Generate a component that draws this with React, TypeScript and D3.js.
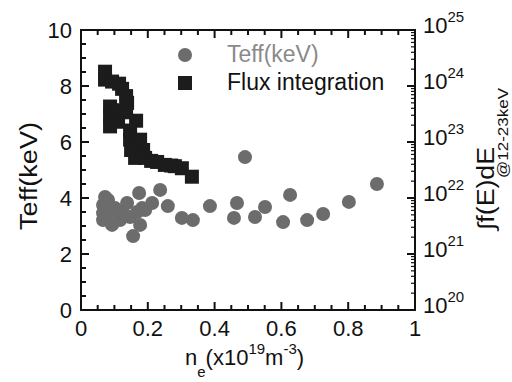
import { useEffect, useRef } from "react";
import * as d3 from "d3";

// Teff (keV) vs line-averaged density (x10^19 m^-3)
const teffDensity = [
  0.072, 0.066, 0.081, 0.066, 0.066, 0.093, 0.087, 0.102, 0.117, 0.138,
  0.126, 0.147, 0.168, 0.174, 0.183, 0.192, 0.177, 0.156, 0.213, 0.237,
  0.26, 0.302, 0.335, 0.386, 0.467, 0.458, 0.491, 0.521, 0.551, 0.605,
  0.626, 0.677, 0.725, 0.802, 0.886,
];
const teffValues = [
  4.04, 3.75, 3.93, 3.46, 3.21, 3.04, 3.5, 3.64, 3.21, 3.82,
  3.46, 3.32, 3.5, 4.18, 3.64, 3.57, 3.04, 2.64, 3.82, 4.29,
  3.71, 3.29, 3.21, 3.71, 3.82, 3.29, 5.46, 3.32, 3.68, 3.14,
  4.11, 3.21, 3.43, 3.86, 4.5,
];

// Flux integration (12-23 keV) vs density
const fluxDensity = [
  0.072, 0.072, 0.093, 0.114, 0.123, 0.135, 0.138, 0.087, 0.087, 0.087,
  0.105, 0.111, 0.135, 0.165, 0.147, 0.147, 0.177, 0.15, 0.186, 0.162,
  0.192, 0.21, 0.228, 0.251, 0.27, 0.281, 0.302, 0.332,
];
const fluxValues = [
  1.8e24, 1.3e24, 1.2e24, 1.1e24, 8.9e23, 6.6e23, 5.0e23, 4.3e23, 2.9e23, 1.9e23,
  3.7e23, 2.3e23, 3.4e23, 2.4e23, 1.6e23, 1.1e23, 1.1e23, 7.2e22, 7.2e22, 5.2e22,
  5.2e22, 4.6e22, 4.4e22, 3.9e22, 3.8e22, 3.7e22, 3.4e22, 2.4e22,
];

const xTicks = [0, 0.2, 0.4, 0.6, 0.8, 1];
const xTickLabels = ["0", "0.2", "0.4", "0.6", "0.8", "1"];
const yTicks = [0, 2, 4, 6, 8, 10];
const logDecades = [20, 21, 22, 23, 24, 25];

const FONT = "'Liberation Sans', Arial, sans-serif";

export default function App() {
  const svgRef = useRef<SVGSVGElement>(null);

  useEffect(() => {
    if (!svgRef.current) return;
    const width = 512;
    const height = 382;
    const margin = { top: 30, right: 97, bottom: 72, left: 81 };
    const innerWidth = width - margin.left - margin.right;
    const innerHeight = height - margin.top - margin.bottom;

    const svg = d3.select(svgRef.current);
    svg.selectAll("*").remove();
    svg.attr("width", width).attr("height", height);

    const g = svg.append("g").attr("transform", `translate(${margin.left},${margin.top})`);

    const xScale = d3.scaleLinear().domain([0, 1]).range([0, innerWidth]);
    const yScale = d3.scaleLinear().domain([0, 10]).range([innerHeight, 0]);
    const yLog = d3.scaleLog().domain([1e20, 1e25]).range([innerHeight, 0]);

    const major = 8;
    const minor = 5;

    // x ticks, bottom and top, pointing inward
    const xMinor = d3.range(0, 1.0001, 0.05);
    xMinor.forEach(v => {
      const isMajor = Math.abs((v / 0.2) - Math.round(v / 0.2)) < 1e-6;
      const len = isMajor ? major : minor;
      g.append("line")
        .attr("x1", xScale(v)).attr("x2", xScale(v))
        .attr("y1", innerHeight).attr("y2", innerHeight - len)
        .attr("stroke", "#111").attr("stroke-width", 2);
      g.append("line")
        .attr("x1", xScale(v)).attr("x2", xScale(v))
        .attr("y1", 0).attr("y2", len)
        .attr("stroke", "#111").attr("stroke-width", 2);
    });

    // left ticks
    d3.range(0, 10.0001, 0.5).forEach(v => {
      const isMajor = Math.abs(v % 2) < 1e-6;
      g.append("line")
        .attr("x1", 0).attr("x2", isMajor ? major : minor)
        .attr("y1", yScale(v)).attr("y2", yScale(v))
        .attr("stroke", "#111").attr("stroke-width", 2);
    });

    // right log ticks
    logDecades.forEach(d => {
      const base = Math.pow(10, d);
      g.append("line")
        .attr("x1", innerWidth).attr("x2", innerWidth - major)
        .attr("y1", yLog(base)).attr("y2", yLog(base))
        .attr("stroke", "#111").attr("stroke-width", 2);
      if (d === 25) return;
      for (let m = 2; m <= 9; m++) {
        g.append("line")
          .attr("x1", innerWidth).attr("x2", innerWidth - 4)
          .attr("y1", yLog(m * base)).attr("y2", yLog(m * base))
          .attr("stroke", "#111").attr("stroke-width", 1.2);
      }
    });

    // frame
    g.append("rect")
      .attr("x", 0).attr("y", 0)
      .attr("width", innerWidth).attr("height", innerHeight)
      .attr("fill", "none").attr("stroke", "#111").attr("stroke-width", 2);

    // tick labels
    xTicks.forEach((v, i) => {
      g.append("text")
        .attr("x", xScale(v)).attr("y", innerHeight + 26)
        .attr("text-anchor", "middle")
        .attr("font-family", FONT).attr("font-size", 22).attr("fill", "#111")
        .text(xTickLabels[i]);
    });
    yTicks.forEach(v => {
      g.append("text")
        .attr("x", -9).attr("y", yScale(v) + 8)
        .attr("text-anchor", "end")
        .attr("font-family", FONT).attr("font-size", 22).attr("fill", "#111")
        .text(String(v));
    });
    logDecades.forEach(d => {
      const t = g.append("text")
        .attr("x", innerWidth + 8).attr("y", yLog(Math.pow(10, d)) + 3)
        .attr("font-family", FONT).attr("font-size", 22).attr("fill", "#111");
      t.append("tspan").text("10");
      t.append("tspan").attr("font-size", 15).attr("dy", -11).text(String(d));
    });

    // data: Teff circles
    g.selectAll(".teff")
      .data(teffDensity.map((x, i) => ({ x, y: teffValues[i] })))
      .enter()
      .append("circle")
      .attr("class", "teff")
      .attr("cx", d => xScale(d.x))
      .attr("cy", d => yScale(d.y))
      .attr("r", 7)
      .attr("fill", "#6c6c6c");

    // data: flux squares
    const s = 14;
    g.selectAll(".flux")
      .data(fluxDensity.map((x, i) => ({ x, y: fluxValues[i] })))
      .enter()
      .append("rect")
      .attr("class", "flux")
      .attr("x", d => xScale(d.x) - s / 2)
      .attr("y", d => yLog(d.y) - s / 2)
      .attr("width", s).attr("height", s)
      .attr("fill", "#1c1c1c");

    // legend
    svg.append("circle").attr("cx", 185).attr("cy", 55).attr("r", 7).attr("fill", "#6c6c6c");
    svg.append("text").attr("x", 227).attr("y", 62)
      .attr("font-family", FONT).attr("font-size", 23).attr("fill", "#8a8a8a")
      .text("Teff(keV)");
    svg.append("rect").attr("x", 178).attr("y", 76).attr("width", 14).attr("height", 14).attr("fill", "#1c1c1c");
    svg.append("text").attr("x", 227).attr("y", 90)
      .attr("font-family", FONT).attr("font-size", 23).attr("fill", "#111")
      .text("Flux integration");

    // axis titles
    svg.append("text")
      .attr("transform", "translate(37,230) rotate(-90)")
      .attr("font-family", FONT).attr("font-size", 23).attr("fill", "#111")
      .attr("textLength", 108).attr("lengthAdjust", "spacingAndGlyphs")
      .text("Teff(keV)");

    svg.append("text")
      .attr("transform", "translate(494,230) rotate(-90)")
      .attr("font-family", FONT).attr("font-size", 23).attr("fill", "#111")
      .attr("textLength", 83).attr("lengthAdjust", "spacingAndGlyphs")
      .text("\u222Bf(E)dE");
    svg.append("text")
      .attr("transform", "translate(508,178) rotate(-90)")
      .attr("font-family", FONT).attr("font-size", 15).attr("fill", "#111")
      .attr("textLength", 90).attr("lengthAdjust", "spacingAndGlyphs")
      .text("@12-23keV");

    const xt = svg.append("text")
      .attr("x", 185).attr("y", 365)
      .attr("font-family", FONT).attr("font-size", 22).attr("fill", "#111");
    xt.append("tspan").text("n");
    xt.append("tspan").attr("font-size", 15).attr("dy", 12).text("e");
    xt.append("tspan").attr("dy", -12).text("(x10");
    xt.append("tspan").attr("font-size", 15).attr("dy", -11).text("19");
    xt.append("tspan").attr("dy", 11).text("m");
    xt.append("tspan").attr("font-size", 15).attr("dy", -11).text("-3");
    xt.append("tspan").attr("dy", 11).text(")");
  }, []);

  return (
    <svg
      ref={svgRef}
      style={{ position: "absolute", left: 0, top: 0, background: "#fff" }}
    ></svg>
  );
}
